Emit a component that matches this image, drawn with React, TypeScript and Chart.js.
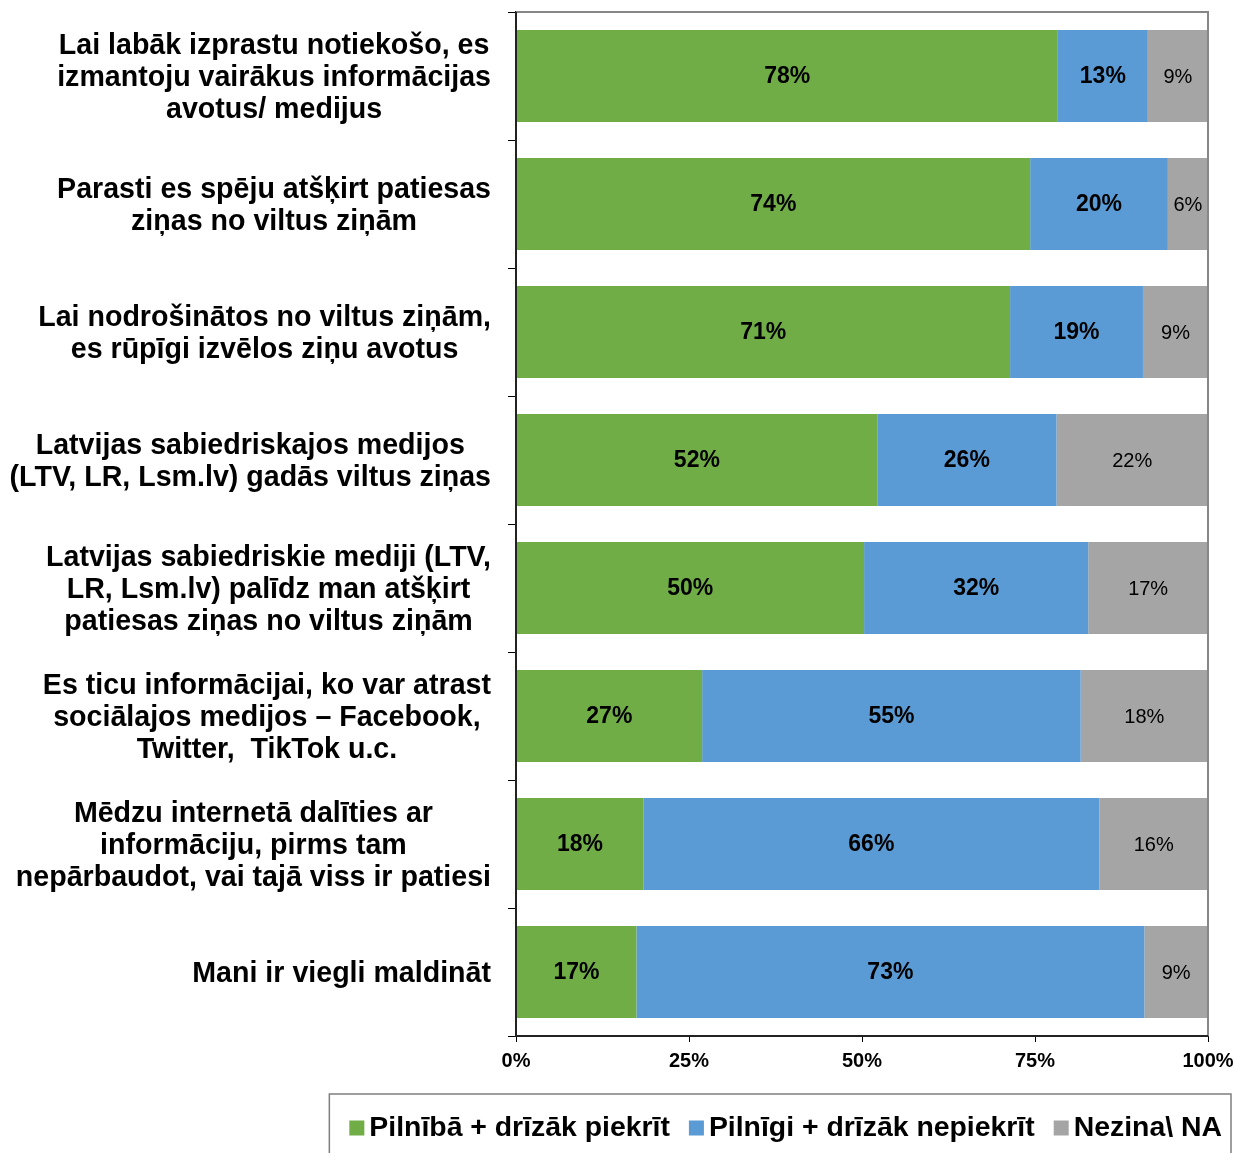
import React, { useEffect, useRef } from "react";
import { Chart, registerables } from "chart.js";

Chart.register(...registerables);

const categories: string[][] = [
  ["Lai labāk izprastu notiekošo, es", "izmantoju vairākus informācijas", "avotus/ medijus"],
  ["Parasti es spēju atšķirt patiesas", "ziņas no viltus ziņām"],
  ["Lai nodrošinātos no viltus ziņām,", "es rūpīgi izvēlos ziņu avotus"],
  ["Latvijas sabiedriskajos medijos", "(LTV, LR, Lsm.lv) gadās viltus ziņas"],
  ["Latvijas sabiedriskie mediji (LTV,", "LR, Lsm.lv) palīdz man atšķirt", "patiesas ziņas no viltus ziņām"],
  ["Es ticu informācijai, ko var atrast", "sociālajos medijos – Facebook,", "Twitter,  TikTok u.c."],
  ["Mēdzu internetā dalīties ar", "informāciju, pirms tam", "nepārbaudot, vai tajā viss ir patiesi"],
  ["Mani ir viegli maldināt"],
];

const seriesNames = ["Pilnībā + drīzāk piekrīt", "Pilnīgi + drīzāk nepiekrīt", "Nezina\\ NA"];
const agree = [78.3, 74.3, 71.4, 52.2, 50.3, 26.9, 18.4, 17.4];
const disagree = [13.0, 19.9, 19.2, 25.9, 32.4, 54.7, 65.9, 73.4];
const dontKnow = [8.7, 5.8, 9.4, 21.9, 17.3, 18.4, 15.7, 9.2];
const seriesColors = ["#70AD47", "#5B9BD5", "#A5A5A5"];
const xTickValues = [0, 25, 50, 75, 100];

const FONT = "'Liberation Sans', Arial, sans-serif";

const yLabelPlugin = {
  id: "yLabelPlugin",
  afterDraw(chart: any) {
    const ctx = chart.ctx;
    const y = chart.scales.y;
    ctx.save();
    ctx.font = `bold 28.6px ${FONT}`;
    ctx.fillStyle = "#000";
    ctx.textAlign = "center";
    ctx.textBaseline = "middle";
    categories.forEach((lines, i) => {
      const cy = y.getPixelForValue(i) + 2;
      const maxW = Math.max(...lines.map((l) => ctx.measureText(l).width));
      const cx = chart.chartArea.left - 25 - maxW / 2;
      lines.forEach((l, j) => {
        ctx.fillText(l, cx, cy + (j - (lines.length - 1) / 2) * 32);
      });
    });
    ctx.restore();
  },
};

const frameAndLabelsPlugin = {
  id: "frameAndLabels",
  afterDatasetsDraw(chart: any) {
    const ctx = chart.ctx;
    const { left, right, top, bottom } = chart.chartArea;
    ctx.save();
    ctx.strokeStyle = "#868686";
    ctx.lineWidth = 2;
    ctx.beginPath();
    ctx.moveTo(left, top);
    ctx.lineTo(right, top);
    ctx.lineTo(right, bottom);
    ctx.stroke();
    ctx.strokeStyle = "#222";
    ctx.beginPath();
    ctx.moveTo(left, top);
    ctx.lineTo(left, bottom);
    ctx.lineTo(right, bottom);
    ctx.stroke();
    ctx.textAlign = "center";
    ctx.textBaseline = "middle";
    ctx.fillStyle = "#000";
    chart.data.datasets.forEach((ds: any, di: number) => {
      const meta = chart.getDatasetMeta(di);
      ctx.font = di < 2 ? `bold 23px ${FONT}` : `20px ${FONT}`;
      meta.data.forEach((el: any, i: number) => {
        const p = el.getProps(["x", "y", "base"], true);
        const v = ds.data[i];
        ctx.fillText(Math.round(v) + "%", (p.x + p.base) / 2, p.y + 1);
      });
    });
    ctx.restore();
  },
  afterDraw(chart: any) {
    // legend (drawn manually to match the boxed, right-aligned layout)
    const ctx = chart.ctx;
    ctx.save();
    ctx.font = `bold 28.4px ${FONT}`;
    ctx.textBaseline = "middle";
    ctx.textAlign = "left";
    const boxSize = 15;
    const boxGap = 20;
    const itemGap = 19;
    const widths = seriesNames.map((s) => ctx.measureText(s).width);
    const total = widths.reduce((a, w) => a + boxGap + w, 0) + itemGap * (seriesNames.length - 1);
    const endX = chart.width - 13;
    const cy = chart.chartArea.bottom + 91;
    let x = endX - total;
    const startX = x;
    seriesNames.forEach((s, i) => {
      ctx.fillStyle = seriesColors[i];
      ctx.fillRect(x, cy - boxSize / 2 + 1, boxSize, boxSize);
      ctx.fillStyle = "#000";
      ctx.fillText(s, x + boxGap, cy + 1);
      x += boxGap + widths[i] + itemGap;
    });
    ctx.strokeStyle = "#7f7f7f";
    ctx.lineWidth = 1.5;
    ctx.strokeRect(startX - 20, cy - 33, endX + 9 - (startX - 20), 90);
    ctx.restore();
  },
};

export default function App() {
  const ref = useRef<HTMLCanvasElement | null>(null);
  useEffect(() => {
    if (!ref.current) return;
    const chart = new Chart(ref.current, {
      type: "bar",
      data: {
        labels: categories.map((l) => l.join(" ")),
        datasets: [
          { label: seriesNames[0], data: agree, backgroundColor: seriesColors[0], borderWidth: 0 },
          { label: seriesNames[1], data: disagree, backgroundColor: seriesColors[1], borderWidth: 0 },
          { label: seriesNames[2], data: dontKnow, backgroundColor: seriesColors[2], borderWidth: 0 },
        ],
      },
      options: {
        indexAxis: "y",
        animation: false,
        responsive: false,
        devicePixelRatio: 1,
        datasets: { bar: { barPercentage: 0.72, categoryPercentage: 1.0 } },
        layout: { padding: { top: 12, left: 0, right: 0, bottom: 77 } },
        scales: {
          x: {
            stacked: true,
            min: 0,
            max: 100,
            afterBuildTicks: (scale: any) => {
              scale.ticks = xTickValues.map((v) => ({ value: v }));
            },
            afterFit: (scale: any) => {
              scale.height = 40;
              scale.paddingRight = 27;
            },
            grid: { drawOnChartArea: false, drawTicks: true, tickLength: 6, color: "#000", tickColor: "#000" },
            border: { display: true, color: "#222", width: 2 },
            ticks: {
              padding: 7,
              color: "#000",
              font: { family: FONT, size: 20, weight: "bold" },
              callback: (v: any) => v + "%",
              maxRotation: 0,
            },
          },
          y: {
            stacked: true,
            afterFit: (scale: any) => {
              scale.width = 516;
            },
            grid: { drawOnChartArea: false, drawTicks: true, tickLength: 8, offset: true, color: "#000", tickColor: "#000" },
            border: { display: true, color: "#222", width: 2 },
            ticks: { display: false },
          },
        },
        plugins: {
          legend: { display: false },
          tooltip: { enabled: false },
        },
      },
      plugins: [yLabelPlugin, frameAndLabelsPlugin],
    } as any);
    return () => chart.destroy();
  }, []);
  return (
    <div style={{ position: "fixed", left: 0, top: 0, width: 1235, height: 1153, overflow: "hidden", background: "#fff" }}>
      <canvas ref={ref} width={1235} height={1153} style={{ display: "block" }} />
    </div>
  );
}
